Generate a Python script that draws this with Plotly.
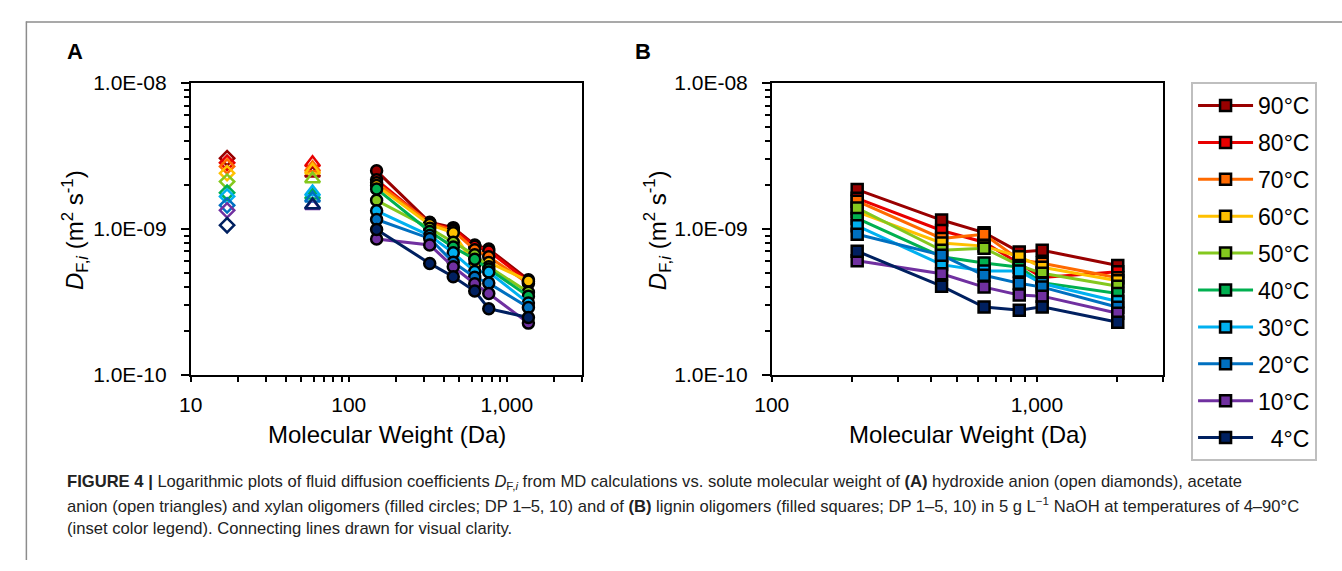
import plotly.graph_objects as go

# ---------------- data ----------------
temps = ["90°C", "80°C", "70°C", "60°C", "50°C", "40°C", "30°C", "20°C", "10°C", "\u00a0\u00a04°C"]
colors = ["#990000", "#E80000", "#FF6A00", "#FFC000", "#84C81E",
          "#00B050", "#00B0F0", "#0070C0", "#7030A0", "#002060"]

mw_hydroxide = 17
mw_acetate = 59
mw_xylan = [150, 325, 458, 626, 768, 1368]
mw_lignin = [210, 437, 632, 858, 1047, 2018]

# diffusion coefficients (m2/s), one value per temperature (90 ... 4 °C)
d_hydroxide = [3.05e-9, 2.84e-9, 2.68e-9, 2.41e-9, 2.11e-9, 1.77e-9, 1.67e-9, 1.45e-9, 1.34e-9, 1.06e-9]
d_acetate = [2.41e-9, 2.84e-9, 2.62e-9, 2.52e-9, 2.20e-9, 1.70e-9, 1.79e-9, 1.62e-9, 1.44e-9, 1.46e-9]

d_xylan = [
    [2.50e-9, 1.11e-9, 1.02e-9, 0.776e-9, 0.728e-9, 0.448e-9],  # 90
    [2.17e-9, 1.09e-9, 1.00e-9, 0.76e-9, 0.706e-9, 0.435e-9],   # 80
    [2.07e-9, 1.10e-9, 0.97e-9, 0.72e-9, 0.645e-9, 0.422e-9],   # 70
    [1.98e-9, 1.07e-9, 0.94e-9, 0.567e-9, 0.589e-9, 0.44e-9],   # 60
    [1.57e-9, 1.01e-9, 0.81e-9, 0.664e-9, 0.55e-9, 0.368e-9],   # 50
    [1.88e-9, 0.96e-9, 0.75e-9, 0.62e-9, 0.53e-9, 0.346e-9],    # 40
    [1.33e-9, 0.90e-9, 0.685e-9, 0.51e-9, 0.506e-9, 0.31e-9],   # 30
    [1.16e-9, 0.86e-9, 0.59e-9, 0.466e-9, 0.425e-9, 0.289e-9],  # 20
    [0.853e-9, 0.776e-9, 0.55e-9, 0.42e-9, 0.361e-9, 0.226e-9], # 10
    [0.99e-9, 0.58e-9, 0.47e-9, 0.375e-9, 0.284e-9, 0.247e-9],  # 4
]

d_lignin = [
    [1.86e-9, 1.15e-9, 0.942e-9, 0.695e-9, 0.713e-9, 0.562e-9],  # 90
    [1.62e-9, 0.975e-9, 0.81e-9, 0.58e-9, 0.464e-9, 0.508e-9],   # 80
    [1.55e-9, 0.86e-9, 0.918e-9, 0.615e-9, 0.582e-9, 0.462e-9],  # 70
    [1.31e-9, 0.80e-9, 0.762e-9, 0.645e-9, 0.546e-9, 0.441e-9],  # 60
    [1.39e-9, 0.713e-9, 0.738e-9, 0.562e-9, 0.496e-9, 0.405e-9], # 50
    [1.18e-9, 0.645e-9, 0.583e-9, 0.546e-9, 0.428e-9, 0.361e-9], # 40
    [1.05e-9, 0.569e-9, 0.514e-9, 0.514e-9, 0.422e-9, 0.318e-9], # 30
    [0.918e-9, 0.661e-9, 0.481e-9, 0.424e-9, 0.399e-9, 0.29e-9], # 20
    [0.604e-9, 0.493e-9, 0.399e-9, 0.352e-9, 0.346e-9, 0.264e-9],# 10
    [0.703e-9, 0.405e-9, 0.291e-9, 0.277e-9, 0.292e-9, 0.229e-9],# 4
]

y_tickvals = [1e-10, 1e-9, 1e-8]
y_ticktext = ["1.0E-10", "1.0E-09", "1.0E-08"]
xa_tickvals = [10, 100, 1000]
xa_ticktext = ["10", "100", "1,000"]
xb_tickvals = [100, 1000]
xb_ticktext = ["100", "1,000"]

FONT = "Liberation Sans, Arial, sans-serif"

fig = go.Figure()

# Panel A
for i, c in enumerate(colors):
    fig.add_trace(go.Scatter(
        x=[mw_hydroxide], y=[d_hydroxide[i]], mode="markers", xaxis="x", yaxis="y",
        marker=dict(symbol="diamond-open", size=11, color=c, line=dict(width=2.5, color=c)),
        showlegend=False, hoverinfo="skip"))
for i, c in enumerate(colors):
    fig.add_trace(go.Scatter(
        x=[mw_acetate], y=[d_acetate[i]], mode="markers", xaxis="x", yaxis="y",
        marker=dict(symbol="triangle-up-open", size=13, color=c, line=dict(width=2.5, color=c)),
        showlegend=False, hoverinfo="skip"))
for i, c in enumerate(colors):
    fig.add_trace(go.Scatter(
        x=mw_xylan, y=d_xylan[i], mode="lines+markers", xaxis="x", yaxis="y",
        line=dict(color=c, width=3),
        marker=dict(symbol="circle", size=11, color=c, line=dict(width=2.5, color="black")),
        showlegend=False))

# Panel B
for i, c in enumerate(colors):
    fig.add_trace(go.Scatter(
        x=mw_lignin, y=d_lignin[i], mode="lines+markers", xaxis="x2", yaxis="y2",
        name=temps[i], legendgroup=str(i),
        line=dict(color=c, width=3),
        marker=dict(symbol="square", size=11, color=c, line=dict(width=2.5, color="black")),
        showlegend=True))

W, H = 1342, 571
def px(x): return x / W
def py(y): return 1 - y / H

axis_common = dict(type="log", showgrid=False, zeroline=False, showline=True, linecolor="black",
                   linewidth=1.5, mirror=True, ticks="outside", tickcolor="black", tickwidth=1.5,
                   tickfont=dict(family=FONT, size=21, color="black"))

xa = dict(axis_common, domain=[px(175), px(572)], range=[1, 3.4771], anchor="y",
          tickmode="array", tickvals=xa_tickvals, ticktext=xa_ticktext, ticklen=5,
          ticklabelstandoff=5,
          minor=dict(ticks="outside", ticklen=5, tickcolor="black", tickwidth=1.5,
                     tickvals=[m * d for d in (10, 100, 1000) for m in range(2, 10) if m * d <= 3000]))
xb = dict(axis_common, domain=[px(764), px(1161)], range=[2, 3.4771], anchor="y2",
          tickmode="array", tickvals=xb_tickvals, ticktext=xb_ticktext, ticklen=5,
          ticklabelstandoff=5,
          minor=dict(ticks="outside", ticklen=5, tickcolor="black", tickwidth=1.5,
                     tickvals=[m * d for d in (100, 1000) for m in range(2, 10) if m * d <= 3000]))
ya_minor = [m * d for d in (1e-10, 1e-9) for m in range(2, 10)]
ya = dict(axis_common, domain=[py(378), py(74)], range=[-10, -8], anchor="x",
          tickmode="array", tickvals=y_tickvals, ticktext=y_ticktext, ticklen=8,
          ticklabelstandoff=10,
          minor=dict(ticks="outside", ticklen=5, tickcolor="black", tickwidth=1.5, tickvals=ya_minor))
yb = dict(ya, anchor="x2")

fig.update_layout(
    width=W, height=H, margin=dict(l=0, r=0, t=0, b=0),
    paper_bgcolor="white", plot_bgcolor="white",
    font=dict(family=FONT, color="black"),
    xaxis=xa, yaxis=ya, xaxis2=xb, yaxis2=yb,
    legend=dict(x=px(1189), xanchor="left", y=py(73), yanchor="top",
                bordercolor="#BFBFBF", borderwidth=2, bgcolor="white",
                font=dict(family=FONT, size=23, color="black"),
                itemwidth=55, tracegroupgap=4, traceorder="grouped"),
)

ytitle = "<i>D</i><sub>F,<i>i</i></sub> (m<sup>2</sup> s<sup>-1</sup>)"
xtitle = "Molecular Weight (Da)"
annots = [
    dict(x=px(58), y=py(41), text="<b>A</b>", font=dict(size=22)),
    dict(x=px(633), y=py(41), text="<b>B</b>", font=dict(size=22)),
    dict(x=px(58), y=py(227), text=ytitle, textangle=-90, font=dict(size=24)),
    dict(x=px(648), y=py(227), text=ytitle, textangle=-90, font=dict(size=24)),
    dict(x=px(374), y=py(440), text=xtitle, font=dict(size=24)),
    dict(x=px(963), y=py(440), text=xtitle, font=dict(size=24)),
]
for a in annots:
    a.update(xref="paper", yref="paper", showarrow=False, xanchor="center", yanchor="middle")
    a["font"] = dict(family=FONT, color="black", **a["font"])
    fig.add_annotation(**a)

caption = [
    "<b>FIGURE 4 |</b> Logarithmic plots of fluid diffusion coefficients <i>D</i><sub>F,<i>i</i></sub> "
    "from MD calculations vs. solute molecular weight of <b>(A)</b> hydroxide anion (open diamonds), acetate",
    "anion (open triangles) and xylan oligomers (filled circles; DP 1–5, 10) and of <b>(B)</b> lignin "
    "oligomers (filled squares; DP 1–5, 10) in 5 g L<sup>−1</sup> NaOH at temperatures of 4–90°C",
    "(inset color legend). Connecting lines drawn for visual clarity.",
]
for k, line in enumerate(caption):
    fig.add_annotation(x=px(48), y=py(490 + 24 * k), xref="paper", yref="paper", text=line,
                       showarrow=False, xanchor="left", yanchor="middle",
                       font=dict(family=FONT, size=16.6, color="#222222"))

# outer frame (top and left edges)
fig.add_shape(type="line", xref="paper", yref="paper", x0=px(8), x1=1, y0=py(10.5), y1=py(10.5),
              line=dict(color="#8C8C8C", width=1.5))
fig.add_shape(type="line", xref="paper", yref="paper", x0=px(8.5), x1=px(8.5), y0=py(10), y1=0,
              line=dict(color="#8C8C8C", width=1.5))

fig.write_html("out.html")
